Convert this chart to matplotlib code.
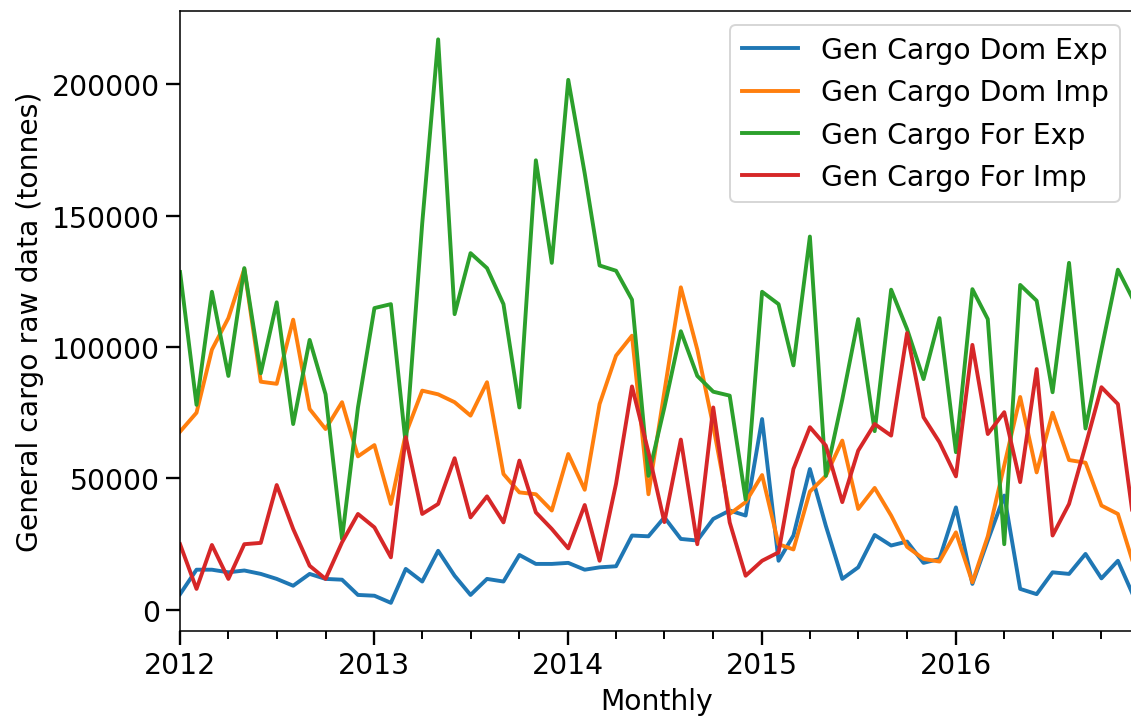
import pandas as pd
import matplotlib
matplotlib.use("Agg")
import matplotlib.pyplot as plt
import matplotlib.dates as mdates

# monthly general cargo tonnage, Jan 2012 - Dec 2016
months = pd.date_range("2012-01-01", periods=60, freq="MS")

dom_exp = [6000, 15300, 15300, 14300, 15000, 13700, 11800, 9200, 13700, 11800,
           11500, 5700, 5400, 2700, 15600, 10800, 22500, 13000, 5700, 11800,
           10800, 20900, 17500, 17500, 17900, 15300, 16200, 16600, 28300, 28000,
           35200, 27000, 26400, 34600, 37800, 35900, 72600, 18700, 28300, 53600,
           32000, 11800, 16200, 28500, 24500, 26000, 17900, 19400, 39000, 9900,
           26400, 43500, 8000, 6000, 14300, 13700, 21300, 12000, 18700, 5000]

dom_imp = [67800, 75000, 99000, 111000, 129700, 86800, 86000, 110400, 76400, 68800,
           79000, 58400, 62700, 40300, 67000, 83400, 82000, 79000, 73900, 86600,
           51700, 44700, 44000, 37800, 59300, 45700, 78300, 96700, 104300, 44000,
           83000, 122700, 99000, 70000, 36500, 41000, 51300, 25000, 23000, 45000,
           51000, 64400, 38400, 46400, 35900, 24000, 19400, 18400, 29500, 10500,
           28000, 55000, 81000, 52300, 75000, 57000, 56000, 39700, 36500, 17000]

for_exp = [128500, 78000, 121000, 89000, 130000, 90000, 117000, 70700, 102700, 82000,
           27000, 77000, 114800, 116300, 63000, 147000, 217000, 112500, 135700, 130000,
           116300, 77000, 171000, 132000, 201600, 166000, 131000, 129000, 118000, 51000,
           77000, 106000, 89000, 83000, 81500, 42000, 121000, 116300, 93000, 142000,
           51000, 80000, 110600, 68000, 121800, 106800, 87800, 111000, 60000, 122000,
           110600, 25000, 123600, 117600, 82800, 132000, 69000, 99000, 129400, 117500]

for_imp = [25000, 8000, 24700, 11800, 25000, 25500, 47500, 30800, 16800, 11800,
           25700, 36500, 31400, 20000, 65700, 36500, 40300, 57700, 35200, 43200,
           33300, 56800, 37100, 30800, 23400, 39900, 18700, 48000, 85000, 60000,
           33400, 64800, 25000, 77000, 33300, 13000, 18700, 21900, 53600, 69500,
           62500, 41000, 60600, 70700, 66300, 105300, 73300, 63800, 50800, 100800,
           66900, 75200, 48600, 91600, 28300, 40300, 62500, 84700, 78300, 33000]

labels = ["Gen Cargo Dom Exp", "Gen Cargo Dom Imp", "Gen Cargo For Exp", "Gen Cargo For Imp"]

plt.rcParams["font.family"] = "DejaVu Sans"
plt.rcParams["font.size"] = 14.5

fig = plt.figure(figsize=(1131 / 140, 717 / 140), dpi=140)
ax = fig.add_axes([0.1592, 0.1186, 0.8433, 0.8647])

for series, lab in zip([dom_exp, dom_imp, for_exp, for_imp], labels):
    ax.plot(months, series, label=lab, linewidth=2.0)

ax.set_xlim(months[0], months[-1])
ax.set_ylim(-8000, 227800)
ax.set_yticks([0, 50000, 100000, 150000, 200000])

ax.xaxis.set_major_locator(mdates.YearLocator())
ax.xaxis.set_major_formatter(mdates.DateFormatter("%Y"))
ax.xaxis.set_minor_locator(mdates.MonthLocator(bymonth=[4, 7, 10]))
ax.tick_params(axis="both", which="major", length=7, width=1.2)
ax.tick_params(axis="x", which="minor", length=4, width=1.0)

ax.set_xlabel("Monthly")
ax.set_ylabel("General cargo raw data (tonnes)")
ax.legend(loc="upper right")

fig.savefig("out.png", dpi=140)
